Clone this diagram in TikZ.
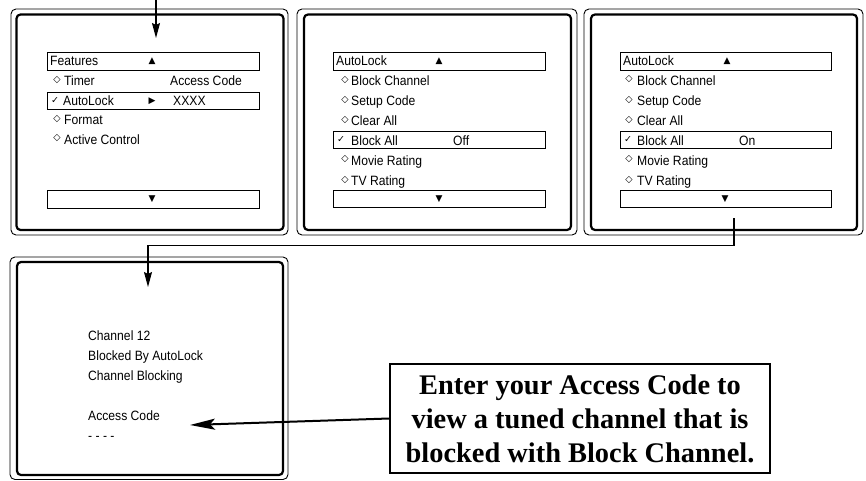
\documentclass[tikz,border=0pt]{standalone}
\usepackage{fontspec}
\usetikzlibrary{arrows.meta}
\newfontfamily\menuff[FakeStretch=0.9]{Liberation Sans}
\newfontfamily\symff{DejaVu Sans}
\newfontfamily\noteff{Liberation Serif}
\newcommand\menusz{\menuff\fontsize{13.5}{16}\selectfont}
\newcommand\diasz{\symff\fontsize{9.5}{10}\selectfont}
\newcommand\trisz{\symff\fontsize{9}{10}\selectfont}
\tikzset{
  outerp/.style={draw, line width=0.9pt, rounded corners=5pt},
  innerp/.style={draw, line width=2.2pt, rounded corners=4pt},
  mbox/.style={draw, line width=0.8pt},
  mtxt/.style={anchor=base west, inner sep=0pt, font=\menusz},
  mtxtr/.style={anchor=base east, inner sep=0pt, font=\menusz},
  dia/.style={anchor=center, inner sep=0pt, font=\diasz},
  tri/.style={anchor=center, inner sep=0pt, font=\trisz},
  conn/.style={draw, line width=1.2pt},
  notebox/.style={draw, line width=2pt, minimum width=380pt, minimum height=109pt,
     align=center, inner sep=0pt, font=\noteff\bfseries\fontsize{28.4}{34}\selectfont},
}
\begin{document}
\begin{tikzpicture}[x=1pt,y=-1pt]
\useasboundingbox (0,0) rectangle (866,481);
% panels
\draw[outerp] (11,9) rectangle (288,235);
\draw[innerp] (16.5,14.5) rectangle (283.5,230);
\draw[outerp] (297,9) rectangle (577,235);
\draw[innerp] (304,14.5) rectangle (571,230);
\draw[outerp] (584,9) rectangle (863,235);
\draw[innerp] (591,14.5) rectangle (857,230);
\draw[outerp] (10,257) rectangle (288,479.5);
\draw[innerp] (17,262) rectangle (283,475);

% ---- panel 1
\draw[mbox] (47,52) rectangle (259,70);
\node[mtxt] (p1t) at (50,66) {Features};
\node[tri] (p1up) at (152,61) {▲};
\node[dia] (p1d1) at (57,80.5) {◇};
\node[mtxt] (p1r1) at (64,86) {Timer};
\node[mtxtr] (p1ac) at (242,86) {Access Code};
\draw[mbox] (47,92.5) rectangle (259,109.5);
\node[dia] (p1c) at (55,101) {✓};
\node[mtxt] (p1r2) at (63,106) {AutoLock};
\node[tri] (p1rt) at (152,101) {▶};
\node[mtxt] (p1x) at (173,106) {XXXX};
\node[dia] (p1d3) at (57,119.5) {◇};
\node[mtxt] (p1r3) at (64,125) {Format};
\node[dia] (p1d4) at (57,138.5) {◇};
\node[mtxt] (p1r4) at (64,145) {Active Control};
\draw[mbox] (47,190) rectangle (259,208);
\node[tri] (p1dn) at (152,199.5) {▼};

% ---- panel 2
\draw[mbox] (333,52) rectangle (545,70);
\node[mtxt] (p2t) at (336,66) {AutoLock};
\node[tri] (p2up) at (439,61) {▲};
\node[dia] (p2d1) at (345,80) {◇};
\node[mtxt] (p2r1) at (351,85.5) {Block Channel};
\node[dia] (p2d2) at (345,100) {◇};
\node[mtxt] (p2r2) at (351,105.5) {Setup Code};
\node[dia] (p2d3) at (345,120) {◇};
\node[mtxt] (p2r3) at (351,125.5) {Clear All};
\draw[mbox] (333,131.5) rectangle (545,148.5);
\node[dia] (p2c) at (341,140) {✓};
\node[mtxt] (p2r4) at (351,145.5) {Block All};
\node[mtxt] (p2off) at (453,145.5) {Off};
\node[dia] (p2d5) at (345,159) {◇};
\node[mtxt] (p2r5) at (351,165.5) {Movie Rating};
\node[dia] (p2d6) at (345,180) {◇};
\node[mtxt] (p2r6) at (351,185.5) {TV Rating};
\draw[mbox] (333,190) rectangle (545,207);
\node[tri] (p2dn) at (439,199) {▼};

% ---- panel 3
\draw[mbox] (620,52) rectangle (831,70);
\node[mtxt] (p3t) at (623,66) {AutoLock};
\node[tri] (p3up) at (727,61) {▲};
\node[dia] (p3d1) at (629,79) {◇};
\node[mtxt] (p3r1) at (637,85.5) {Block Channel};
\node[dia] (p3d2) at (629,100) {◇};
\node[mtxt] (p3r2) at (637,105.5) {Setup Code};
\node[dia] (p3d3) at (629,120) {◇};
\node[mtxt] (p3r3) at (637,125.5) {Clear All};
\draw[mbox] (620,131.5) rectangle (831,148.5);
\node[dia] (p3c) at (628,140) {✓};
\node[mtxt] (p3r4) at (637,145.5) {Block All};
\node[mtxt] (p3on) at (739,145.5) {On};
\node[dia] (p3d5) at (629,159) {◇};
\node[mtxt] (p3r5) at (637,165.5) {Movie Rating};
\node[dia] (p3d6) at (629,180) {◇};
\node[mtxt] (p3r6) at (637,185.5) {TV Rating};
\draw[mbox] (620,190) rectangle (831,207);
\node[tri] (p3dn) at (725,199) {▼};

% ---- lower panel
\node[mtxt] (l1) at (88,340) {Channel 12};
\node[mtxt] (l2) at (88,360) {Blocked By AutoLock};
\node[mtxt] (l3) at (88,380) {Channel Blocking};
\node[mtxt] (l4) at (88,420) {Access Code};
\node[mtxt] (l5) at (88,440) {- - - -};

% ---- note
\node[notebox] (note) at (580,418.5) {Enter your Access Code to\\view a tuned channel that is\\blocked with Block Channel.};

% ---- connectors
\coordinate (topin) at (156,0);
\coordinate (topend) at (156,38);
\draw[conn, -{Stealth[length=15pt,width=8pt,inset=2pt]}] (topin) -- (topend);
\coordinate (c3) at (734,218);
\coordinate (c4end) at (148,287);
\draw[conn, -{Stealth[length=15pt,width=8pt,inset=2pt]}] (c3) |- (148,245.5) -- (c4end);
\coordinate (acend) at (190,425);
\draw[line width=2pt, -{Stealth[length=25pt,width=11pt,inset=5pt]}] (note.west) -- (acend);
\end{tikzpicture}
\end{document}
